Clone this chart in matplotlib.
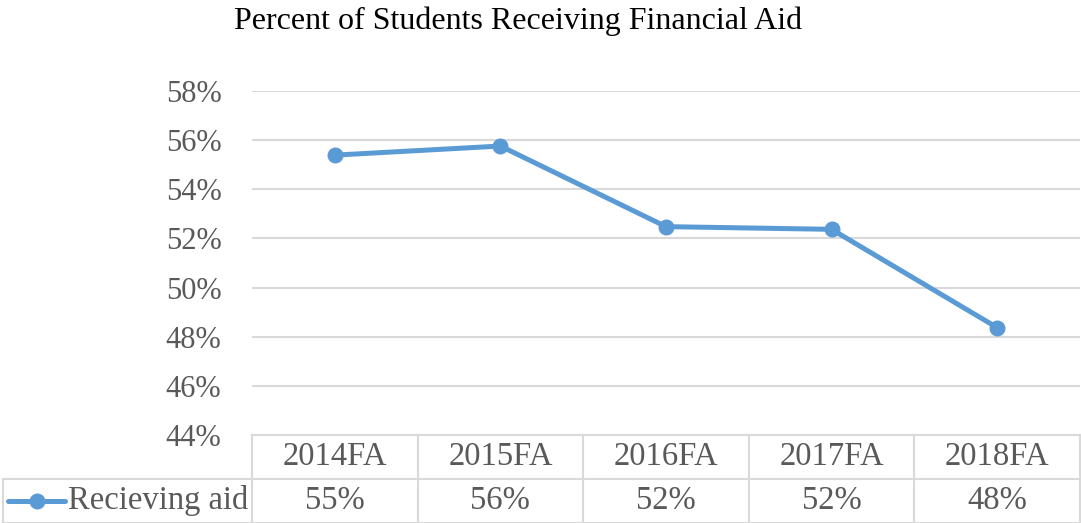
import numpy as np
import matplotlib
matplotlib.use("Agg")
import matplotlib.pyplot as plt
from matplotlib.lines import Line2D

# data
categories = ["2014FA", "2015FA", "2016FA", "2017FA", "2018FA"]
aid_pct = [55.39, 55.76, 52.48, 52.37, 48.37]
aid_labels = ["55%", "56%", "52%", "52%", "48%"]
series_name = "Recieving aid"
y_ticks = [44, 46, 48, 50, 52, 54, 56, 58]

plt.rcParams['font.family'] = ['Liberation Serif', 'DejaVu Serif']
W, H = 1081, 523
blue = "#5b9bd5"
grey_txt = "#595959"
grid_c = "#d9d9d9"
fs = 22
fs_tab = 23.5

fig = plt.figure(figsize=(W / 100, H / 100), dpi=100)

# main plot area (pixel geometry from the reference)
left, right, top, bottom = 252, 1080, 91, 435
ax = fig.add_axes([left / W, 1 - bottom / H, (right - left) / W, (bottom - top) / H])
x = np.arange(len(categories))
ax.plot(x, aid_pct, color=blue, lw=3.6, marker="o", ms=10.5, solid_capstyle="round", zorder=3)
ax.set_xlim(-0.5, len(categories) - 0.5)
ax.set_ylim(y_ticks[0], y_ticks[-1])
ax.set_yticks(y_ticks)
ax.set_yticklabels([f"{t}%" for t in y_ticks], fontsize=fs, color=grey_txt)
ax.set_xticks([])
ax.yaxis.grid(True, color=grid_c, lw=1.5)
ax.tick_params(axis="y", length=0, pad=22)
for s in ax.spines.values():
    s.set_visible(False)

# data table under the plot
tab = fig.add_axes([left / W, 0, (right - left) / W, (H - bottom) / H])
tab.set_xlim(-0.5, len(categories) - 0.5)
tab.set_ylim(2, 0)
tab.axis("off")
px = len(categories) / (right - left)   # data units per pixel
x_leg = -0.5 - (left - 3) * px
lkw = dict(color=grid_c, lw=1.5, clip_on=False)
tab.plot([-0.5, len(categories) - 0.5], [0, 0], **lkw)
tab.plot([x_leg, len(categories) - 0.5], [1, 1], **lkw)
tab.plot([x_leg, len(categories) - 0.5], [1.99, 1.99], **lkw)
for k in range(len(categories) + 1):
    tab.plot([k - 0.5, k - 0.5], [0, 2], **lkw)
tab.plot([x_leg, x_leg], [1, 2], **lkw)
for i, (c, lab) in enumerate(zip(categories, aid_labels)):
    tab.text(i, 0.5, c, ha="center", va="center", fontsize=fs_tab, color=grey_txt)
    tab.text(i, 1.5, lab, ha="center", va="center", fontsize=fs_tab, color=grey_txt)
x0 = -0.5 - (left - 8) * px
x1 = -0.5 - (left - 65) * px
tab.add_line(Line2D([x0, x1], [1.5, 1.5], color=blue, lw=3.6, solid_capstyle="round", clip_on=False))
tab.add_line(Line2D([(x0 + x1) / 2], [1.5], color=blue, marker="o", ms=10.5, clip_on=False))
tab.text(-0.5 - (left - 68) * px, 1.5, series_name, ha="left", va="center", fontsize=fs_tab, color=grey_txt)

fig.text(518 / W, 1 - 21 / H, "Percent of Students Receiving Financial Aid",
         ha="center", va="center", fontsize=23, color="black")

fig.savefig("out.png", dpi=100)
